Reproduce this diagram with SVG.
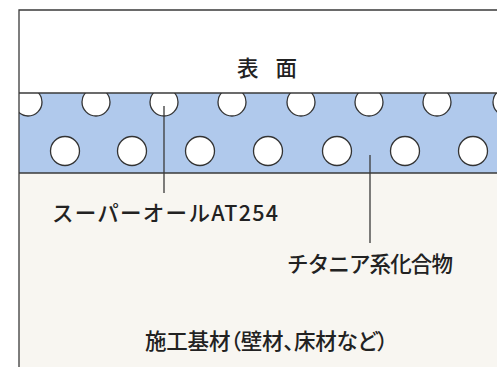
<svg xmlns="http://www.w3.org/2000/svg" width="497" height="367" viewBox="0 0 497 367">
<style>
.ln{stroke:#3a3a3a;stroke-width:1.3;fill:none}
.cir{fill:#ffffff;stroke:#333333;stroke-width:1.3}
.t{font-family:"Noto Sans CJK JP","Noto Sans",sans-serif;fill:#222222;font-size:21.5px;font-weight:500}
.p{font-feature-settings:"palt"}
</style>
<defs>
<clipPath id="band"><rect x="19" y="93" width="478" height="80"/></clipPath>
</defs>
<rect x="0" y="0" width="497" height="367" fill="#ffffff"/>
<g id="substrate">
<rect x="19" y="173" width="478" height="194" fill="#f8f6f1"/>
<text class="t p" x="145" y="349" textLength="243" lengthAdjust="spacing">施工基材（壁材、床材など）</text>
</g>
<g id="surface">
<rect x="19" y="10" width="478" height="83" fill="#ffffff"/>
<text class="t" x="237" y="76" textLength="60" lengthAdjust="spacing">表 面</text>
</g>
<g id="coating">
<rect x="19" y="93" width="478" height="80" fill="#b0c9ec"/>
<g clip-path="url(#band)">
<circle class="cir" cx="28" cy="102" r="14"/>
<circle class="cir" cx="96" cy="102" r="14"/>
<circle class="cir" cx="164" cy="102" r="14"/>
<circle class="cir" cx="232" cy="102" r="14"/>
<circle class="cir" cx="301" cy="102" r="14"/>
<circle class="cir" cx="369" cy="102" r="14"/>
<circle class="cir" cx="437" cy="102" r="14"/>
<circle class="cir" cx="507" cy="102" r="14"/>
<circle class="cir" cx="65" cy="151" r="14.5"/>
<circle class="cir" cx="132" cy="151" r="14.5"/>
<circle class="cir" cx="200" cy="151" r="14.5"/>
<circle class="cir" cx="268" cy="151" r="14.5"/>
<circle class="cir" cx="337" cy="151" r="14.5"/>
<circle class="cir" cx="405" cy="151" r="14.5"/>
<circle class="cir" cx="473" cy="151" r="14.5"/>
</g>
<line class="ln" x1="19" y1="93" x2="497" y2="93"/>
<line class="ln" x1="19" y1="173" x2="497" y2="173"/>
</g>
<g id="frame">
<path class="ln" d="M497,10 H19 V367"/>
</g>
<g id="label-superall">
<text class="t" x="52" y="221" textLength="226" lengthAdjust="spacing">スーパーオールAT254</text>
</g>
<g id="label-titania">
<text class="t" x="287" y="272" textLength="166" lengthAdjust="spacing">チタニア系化合物</text>
</g>
<g id="connectors">
<line class="ln" x1="164" y1="106" x2="164" y2="193"/>
<line class="ln" x1="370" y1="155" x2="370" y2="243"/>
</g>
</svg>
